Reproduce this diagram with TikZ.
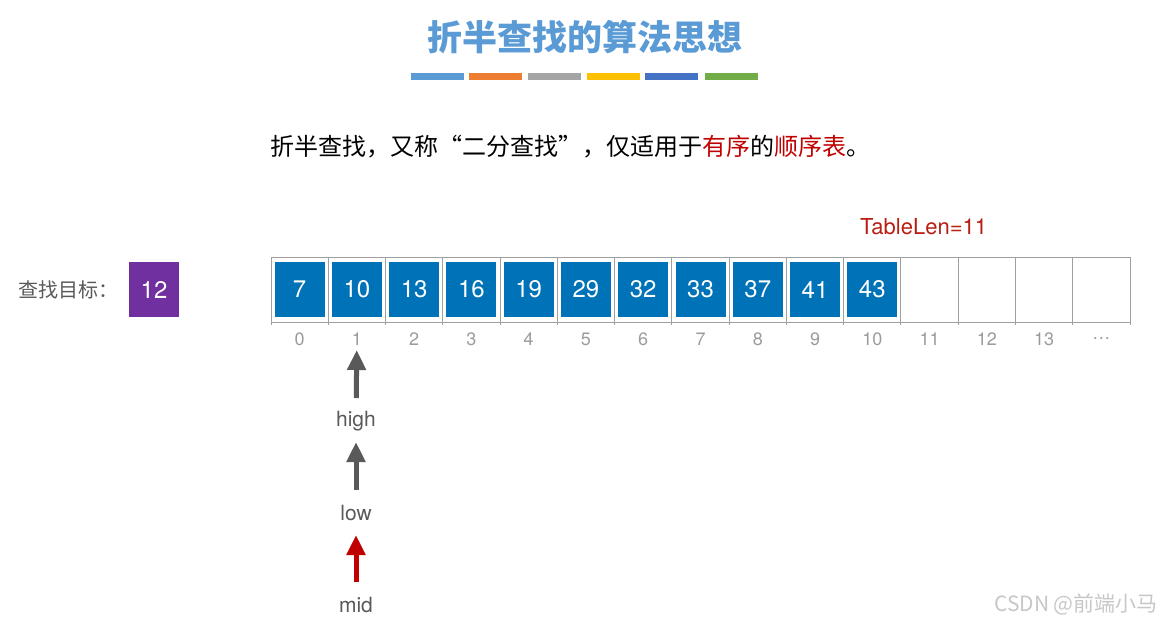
\documentclass[tikz,border=0pt]{standalone}
\usepackage{fontspec}
\setmainfont{TeX Gyre Heros}
\newfontfamily\cjk{Noto Sans CJK SC}
\usetikzlibrary{arrows.meta}
\definecolor{titleblue}{RGB}{91,155,213}
\definecolor{barorange}{RGB}{237,125,49}
\definecolor{bargray}{RGB}{165,165,165}
\definecolor{baryellow}{RGB}{255,192,0}
\definecolor{bardblue}{RGB}{68,114,196}
\definecolor{bargreen}{RGB}{112,173,71}
\definecolor{cellblue}{RGB}{0,114,184}
\definecolor{targetpurple}{RGB}{112,48,160}
\definecolor{darkred}{RGB}{192,0,0}
\definecolor{tlred}{RGB}{185,30,20}
\definecolor{txtgray}{RGB}{89,89,89}
\definecolor{idxgray}{RGB}{155,155,155}
\definecolor{linegray}{RGB}{160,160,160}
\tikzset{
  bar/.style={minimum width=53pt,minimum height=7pt,inner sep=0pt},
  valbox/.style={fill=cellblue,text=white,minimum width=50pt,minimum height=55pt,inner sep=0pt,font=\fontsize{24}{24}\selectfont},
  idx/.style={text=idxgray,font=\fontsize{18}{18}\selectfont,inner sep=0pt},
  ptr/.style={text=txtgray,font=\fontsize{21}{21}\selectfont,inner sep=1pt},
  bigarrow/.style={line width=5pt,-{Triangle[width=18pt,length=20pt]}},
  frameline/.style={linegray,line width=1pt},
}
\begin{document}
\begin{tikzpicture}[x=1pt,y=-1pt]
\useasboundingbox (0,0) rectangle (1164,624);
% title
\node[text=titleblue,font=\cjk\bfseries\fontsize{35}{35}\selectfont] (title) at (584.5,37) {折半查找的算法思想};
\node[bar,fill=titleblue]    (b1) at (437.5,76.5) {};
\node[bar,fill=barorange]    (b2) at (495,76.5) {};
\node[bar,fill=bargray]      (b3) at (554,76.5) {};
\node[bar,fill=baryellow]    (b4) at (613,76.5) {};
\node[bar,fill=bardblue]     (b5) at (671.5,76.5) {};
\node[bar,fill=bargreen]     (b6) at (731.5,76.5) {};
% subtitle
\node[anchor=west,font=\cjk\fontsize{24}{24}\selectfont,inner sep=0pt] (sub) at (270,147)
  {折半查找，又称“二分查找”，仅适用于\textcolor{darkred}{有序}的\textcolor{darkred}{顺序表}。};
% table length
\node[anchor=west,text=tlred,font=\fontsize{22}{22}\selectfont,inner sep=0pt] (tl) at (860,227) {TableLen=11};
% target
\node[anchor=west,text=txtgray,font=\cjk\fontsize{20}{20}\selectfont,inner sep=0pt] (tgtlbl) at (18,290) {查找目标：};
\node[fill=targetpurple,text=white,minimum width=50pt,minimum height=55pt,inner sep=0pt,font=\fontsize{24}{24}\selectfont] (tgt) at (154,289.5) {12};
% table frame
\draw[frameline] (271,257) rectangle (1130,322);
\foreach \i in {0,...,15} {
  \draw[frameline] ({271+57.267*\i},257) -- ({271+57.267*\i},325);
}
% values
\foreach \v [count=\k from 0] in {7,10,13,16,19,29,32,33,37,41,43} {
  \node[valbox] (v\k) at ({271+57.267*(\k+0.5)},289.5) {\v};
}
% indexes
\foreach \t [count=\k from 0] in {0,1,2,3,4,5,6,7,8,9,10,11,12,13,\dots} {
  \node[idx] (i\k) at ({271+57.267*(\k+0.5)},339) {\t};
}
% pointers
\node[ptr] (high) at (356,421) {high};
\node[ptr] (low) at (356,513) {low};
\node[ptr] (mid) at (356,605) {mid};
\draw[bigarrow,txtgray,shorten <=23pt,shorten >=11pt] (high.center) -- (i1.center);
\draw[bigarrow,txtgray,shorten <=23pt,shorten >=21pt] (low.center) -- (high.center);
\draw[bigarrow,darkred,shorten <=23pt,shorten >=22pt] (mid.center) -- (low.center);
% watermark
\node[anchor=east,text=black!22,font=\cjk\fontsize{21}{21}\selectfont,inner sep=0pt] (wm) at (1158,604) {CSDN @前端小马};
\end{tikzpicture}
\end{document}
